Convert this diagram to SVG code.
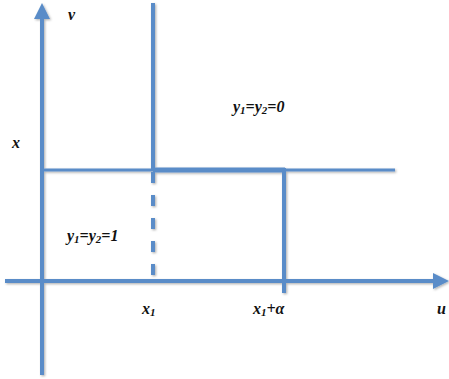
<svg xmlns="http://www.w3.org/2000/svg" width="449" height="379" viewBox="0 0 449 379">
<defs>
<style>
.ln{stroke:#5a8cc8;fill:none;stroke-linecap:butt}
.ah{fill:#5a8cc8}
.t{font-family:"Liberation Serif","DejaVu Serif",serif;font-weight:bold;font-style:italic;font-size:16px;fill:#111}
.s{font-size:11px}
</style>
<filter id="sh" x="-10%" y="-10%" width="130%" height="130%">
<feDropShadow dx="1.2" dy="1.2" stdDeviation="0.8" flood-color="#000" flood-opacity="0.3"/>
</filter>
</defs>
<g id="connectors" filter="url(#sh)">
<line class="ln" x1="42" y1="375" x2="42" y2="18" stroke-width="4"/>
<polygon class="ah" points="42,3 34,19 50,19"/>
<line class="ln" x1="5" y1="281" x2="434" y2="281" stroke-width="4"/>
<polygon class="ah" points="449,281 433,273 433,289"/>
<line class="ln" x1="153" y1="3" x2="153" y2="170" stroke-width="4"/>
<line class="ln" x1="153" y1="172" x2="153" y2="281" stroke-width="4" stroke-dasharray="11,12"/>
<line class="ln" x1="42" y1="170" x2="153" y2="170" stroke-width="3"/>
<line class="ln" x1="153" y1="170" x2="285" y2="170" stroke-width="5"/>
<line class="ln" x1="285" y1="170" x2="395" y2="170" stroke-width="3"/>
<line class="ln" x1="284" y1="168" x2="284" y2="293" stroke-width="4"/>
</g>
<g id="label-v"><text class="t" x="68" y="20">v</text></g>
<g id="label-x"><text class="t" x="12" y="148">x</text></g>
<g id="label-u"><text class="t" x="437" y="314">u</text></g>
<g id="label-x1"><text class="t" x="142" y="314">x<tspan class="s" dy="2">1</tspan></text></g>
<g id="label-x1a"><text class="t" x="253" y="314">x<tspan class="s" dy="2">1</tspan><tspan dy="-2">+α</tspan></text></g>
<g id="region-0"><text class="t" x="233" y="112">y<tspan class="s" dy="2">1</tspan><tspan dy="-2">=y</tspan><tspan class="s" dy="2">2</tspan><tspan dy="-2">=0</tspan></text></g>
<g id="region-1"><text class="t" x="67" y="241">y<tspan class="s" dy="2">1</tspan><tspan dy="-2">=y</tspan><tspan class="s" dy="2">2</tspan><tspan dy="-2">=1</tspan></text></g>
</svg>
